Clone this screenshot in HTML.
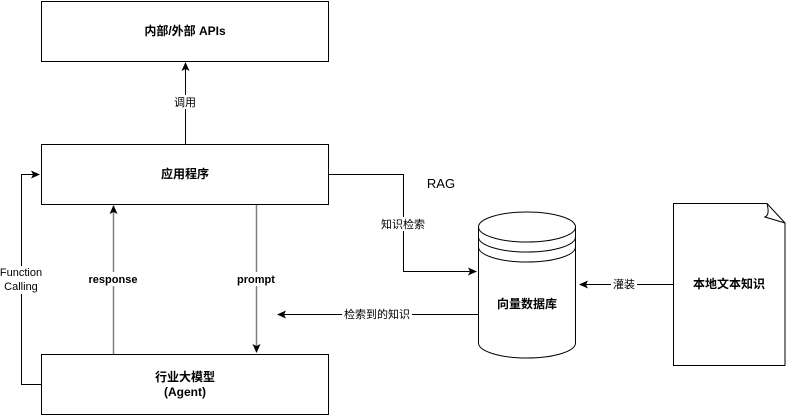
<!DOCTYPE html>
<html><head><meta charset="utf-8"><style>
body{margin:0;background:#fff;}
svg text{font-family:"Liberation Sans","Noto Sans CJK SC",sans-serif;fill:#000;}
</style></head><body>
<svg width="787" height="415" viewBox="0 0 787 415" xmlns="http://www.w3.org/2000/svg" font-size="12">
<defs>
<marker id="a" markerWidth="10" markerHeight="10" refX="8" refY="4" orient="auto" markerUnits="userSpaceOnUse"><path d="M0,0 L9,4 L0,8 L2,4 Z" fill="#000"/></marker>
</defs>
<g fill="#fff" stroke="#000" stroke-width="1">
<rect x="41.5" y="1.5" width="287" height="60"/>
<rect x="41.5" y="144.5" width="287" height="60"/>
<rect x="41.5" y="354.5" width="287" height="60"/>
</g>
<text x="185" y="35" text-anchor="middle" font-weight="bold">内部/外部 APIs</text>
<text x="185" y="178" text-anchor="middle" font-weight="bold">应用程序</text>
<text x="185" y="381" text-anchor="middle" font-weight="bold">行业大模型</text>
<text x="185" y="396" text-anchor="middle" font-weight="bold">(Agent)</text>
<line x1="185.5" y1="144" x2="185.5" y2="63" stroke="#000" marker-end="url(#a)"/>
<rect x="170" y="95" width="30" height="14" fill="#fff"/>
<text x="185" y="106" text-anchor="middle" font-size="11">调用</text>
<line x1="113.5" y1="354" x2="113.5" y2="206" stroke="#808080" stroke-width="1.5" marker-end="url(#a)"/>
<rect x="86" y="272" width="56" height="14" fill="#fff"/>
<text x="113" y="283" text-anchor="middle" font-weight="bold" font-size="11">response</text>
<line x1="256.5" y1="205" x2="256.5" y2="352" stroke="#808080" stroke-width="1.5" marker-end="url(#a)"/>
<rect x="235" y="272" width="44" height="14" fill="#fff"/>
<text x="256" y="283" text-anchor="middle" font-weight="bold" font-size="11">prompt</text>
<path d="M41 384.5 H21.5 V174.5 H39" fill="none" stroke="#000" marker-end="url(#a)"/>
<rect x="0" y="266" width="42" height="28" fill="#fff"/>
<text x="21" y="276" text-anchor="middle" font-size="11">Function</text>
<text x="21" y="290" text-anchor="middle" font-size="11">Calling</text>
<path d="M328 174.5 H403.5 V271.5 H476" fill="none" stroke="#000" marker-end="url(#a)"/>
<text x="441" y="188" text-anchor="middle" font-size="13">RAG</text>
<rect x="380" y="217" width="48" height="14" fill="#fff"/>
<text x="403" y="228" text-anchor="middle" font-size="11">知识检索</text>
<line x1="478" y1="314.5" x2="278" y2="314.5" stroke="#000" marker-end="url(#a)"/>
<rect x="342" y="307" width="70" height="14" fill="#fff"/>
<text x="377" y="318" text-anchor="middle" font-size="11">检索到的知识</text>
<g fill="#fff" stroke="#000">
<path d="M478.5 227 A48.5 15 0 0 1 575.5 227 V343 A48.5 15 0 0 1 478.5 343 Z"/>
<path d="M478.5 227 A48.5 15 0 0 0 575.5 227" fill="none"/>
<path d="M478.5 237 A48.5 15 0 0 0 575.5 237" fill="none"/>
<path d="M478.5 247 A48.5 15 0 0 0 575.5 247" fill="none"/>
</g>
<text x="527" y="308" text-anchor="middle" font-weight="bold">向量数据库</text>
<path d="M673.5 203.5 H767 L785 223 V365.5 H673.5 Z" fill="#fff" stroke="#000"/>
<path d="M767 203.5 Q770 215 765 217 L785 223" fill="none" stroke="#000"/>
<text x="729" y="288" text-anchor="middle" font-weight="bold">本地文本知识</text>
<line x1="673" y1="284.5" x2="580" y2="284.5" stroke="#000" marker-end="url(#a)"/>
<rect x="611" y="277" width="26" height="14" fill="#fff"/>
<text x="624" y="288" text-anchor="middle" font-size="11">灌装</text>
</svg>
</body></html>
